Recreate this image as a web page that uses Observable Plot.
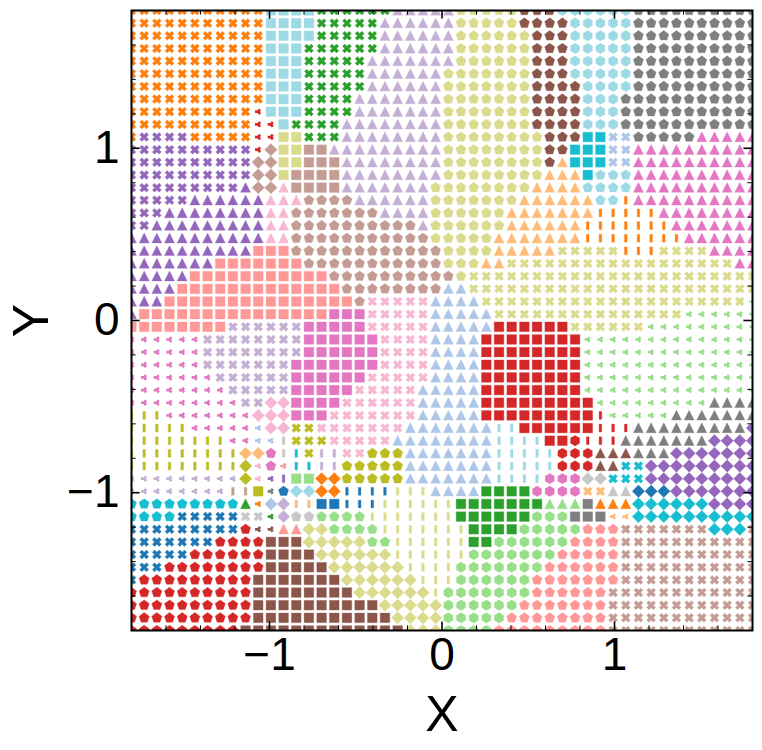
<!DOCTYPE html>
<html><head><meta charset="utf-8">
<script src="https://cdn.jsdelivr.net/npm/d3@7"></script>
<script src="https://cdn.jsdelivr.net/npm/@observablehq/plot@0.6"></script>
<style>html,body{margin:0;padding:0;background:#fff}svg{display:block}</style>
</head><body><div id="chart"></div>
<script>
// Colour keys a..t = the 20 tab20 colours
const colorKeys = "abcdefghijklmnopqrst".split("");
const colorValues = ["#1f77b4","#aec7e8","#ff7f0e","#ffbb78","#2ca02c","#98df8a","#d62728","#ff9896","#9467bd","#c5b0d5","#8c564b","#c49c94","#e377c2","#f7b6d2","#7f7f7f","#c7c7c7","#bcbd22","#dbdb8d","#17becf","#9edae5"];
// Each row (top to bottom) lists runs: colour key, shape key, cell count.
// Shapes: x cross, s square, t triangle, p pentagon, d diamond, b bar, l three-arm, h hexagon
const rows = [
"cx11 ts4 ex6 jt5 rp5 kp3 th6 op10",
"cx11 ts4 ex5 jt6 rp5 kp4 th5 op10",
"cx11 ts4 ex5 jt6 rp6 kp3 th5 op10",
"cx11 ts3 ex6 jt6 rp6 kp3 th5 op10",
"cx11 ts3 ex5 jt7 rp6 kp3 th5 op10",
"cx11 ts3 ex5 jt6 rp7 kp3 th5 op10",
"cx11 ts3 ex5 jt6 rp7 kp4 th4 op10",
"cx11 ts3 ex4 jt7 rp7 kp4 th3 op11",
"cx10 gl1 ts3 ex4 jt7 rp7 kp4 th3 op11",
"cx10 gl2 ts1 ex4 jt8 rp7 kp4 th3 op11",
"cx1 ix4 cx5 gl2 rs2 ex3 jt8 rp8 kp3 ss2 bx2 op5 mt5",
"ix10 gl1 ld1 rs2 ls2 jt9 rp8 kp2 ss3 bx2 mt10",
"ix10 ld2 rs2 ls3 jt8 rp8 kp1 dt1 ss3 bx2 mt10",
"ix10 ld2 rs1 ls4 jt8 rp8 dt3 ss1 tp3 mt10",
"ix9 it1 ld2 nt1 ls4 jt7 rp8 dt4 tp4 mt10",
"ix5 it6 nt3 lp4 jt6 rp7 dt6 tp2 cb1 mt10",
"ix3 it8 nt2 lp7 jt4 rp6 dt7 cb5 mt8",
"ix2 it9 nt2 lp10 jt1 rp6 dt6 cb7 mt7",
"it11 nt2 lp11 rp5 dt7 cb8 mt6",
"it10 hs3 lp12 rp4 dt5 rx5 cb3 rx4 mt4",
"it7 hs7 lp11 rp3 dt2 rx18 mt2",
"it5 hs11 lp10 rp1 rx23",
"it4 hs13 lp8 bt2 rx23",
"it3 hs15 lp1 nx5 bt4 rx21 fl1",
"it1 hs15 ms3 nx5 bt5 rx15 fl6",
"hs8 jx6 ms5 nx5 bt5 gs6 rx6 fl9",
"ml6 jx8 ms6 nx4 bt4 gs8 fl14",
"ml6 jx8 ms6 nx4 bt4 gs8 fl14",
"ml6 jx7 ms7 nx4 bt4 gs8 fl14",
"ml7 jx6 ms6 nx5 bt4 gs8 fl14",
"ml8 jx5 ms5 nx5 bt5 gs8 fl14",
"ml9 jx2 nd2 ms4 nx6 bt5 gs9 fl9 ot4",
"qb3 ml7 nd3 ms3 nx7 bt5 gs9 gb1 fl5 ot7",
"qb5 ml5 bl1 nd2 qx2 nx7 bt7 tb2 gs6 gb3 ot9 id1",
"qb8 ml2 bl2 pb1 qx3 nx5 bt8 tb4 gs2 gh1 gb3 ot7 id4",
"qb9 dd2 mp1 pb1 sb1 qx1 jb2 nx2 qp3 bt7 tb5 gh3 kt3 ot3 id7",
"qb9 qd1 nl1 mp1 hl1 sb2 jb2 qp5 bt7 tb5 gh3 kt2 sx2 id9",
"jl9 qd1 nl1 il1 ib1 fs2 cd2 qp5 bt7 tb4 mh3 pd2 sx3 id9",
"jl8 lb2 qs1 ol1 ap1 td2 cd2 ab4 rb3 bt4 es4 mh4 dx2 pt2 ad3 id7",
"sp9 et1 cl1 bd1 jd1 db2 as2 ab3 rb6 es7 ft3 os1 ct3 sd6 id4",
"sp4 ax5 px2 el1 jd1 pp2 fp4 rb7 es6 fh3 os3 dl2 sd10",
"ax9 gp1 kl2 ht2 rd2 fp4 rb7 es4 fh5 hp3 lx7 sd3 lx1",
"ax7 gp4 ks3 rd5 fp2 rb6 es2 fh6 hp4 lx11",
"ax5 gp6 ks4 rd6 rb6 fh7 hp5 lx11",
"ax3 gp8 ks5 rd6 rb4 fh7 hp6 lx11",
"ax1 gp9 ks7 rd6 rb3 fh6 hp7 lx11",
"gp10 ks8 rd6 rb1 fh7 hp6 lx12",
"gp10 ks10 rd5 fh6 hp7 lx12",
"gp10 ks11 rd4 fh5 hp8 lx12",
"gp9 ks13 rd3 fh4 hp9 lx12"
];
const gridCount = 50, lim = 1.8;
const majorTicks = [-1, 0, 1];
const minorTicks = [-1.6,-1.4,-1.2,-0.8,-0.6,-0.4,-0.2,0.2,0.4,0.6,0.8,1.2,1.4,1.6];
const tickLabels = ["\u22121", "0", "1"];

const cells = [];
rows.forEach((row, j) => {
  let i = 0;
  row.split(" ").forEach(tok => {
    const n = +tok.slice(2);
    for (let k = 0; k < n; k++, i++) {
      cells.push({x: -lim + i * 2 * lim / (gridCount - 1), y: lim - j * 2 * lim / (gridCount - 1), c: tok[0], s: tok[1]});
    }
  });
  if (i !== gridCount) console.error("row", j, i);
});

const poly = pts => ({draw(ctx){pts.forEach((p,k)=> k?ctx.lineTo(p[0],p[1]):ctx.moveTo(p[0],p[1])); ctx.closePath();}});
const ring = (n,R,rot) => d3.range(n).map(k=>{const a=rot+k*2*Math.PI/n; return [R*Math.sin(a),-R*Math.cos(a)];});
const X = 2.25;
const symbols = {
  s: poly([[-4.8,-4.8],[4.8,-4.8],[4.8,4.8],[-4.8,4.8]]),
  t: poly([[0,-5.2],[5,4.7],[-5,4.7]]),
  p: poly(ring(5,5.3,0)),
  h: poly(ring(6,5.2,0)),
  d: poly([[0,-6.2],[6.2,0],[0,6.2],[-6.2,0]]),
  b: poly([[-1.3,-3.9],[1.3,-3.9],[1.3,3.9],[-1.3,3.9]]),
  x: poly([[-1,-2],[0,-1],[1,-2],[2,-1],[1,0],[2,1],[1,2],[0,1],[-1,2],[-2,1],[-1,0],[-2,-1]].map(p=>[p[0]*X,p[1]*X])),
  l: {draw(ctx){ctx.moveTo(-3.2,0);ctx.lineTo(0,0);ctx.moveTo(1.9,-2.4);ctx.lineTo(0,0);ctx.lineTo(1.9,2.4);}}
};
const dotMarks = Object.keys(symbols).map(s => {
  const data = cells.filter(d => d.s === s);
  return s === "l"
    ? Plot.dot(data, {x:"x", y:"y", stroke:"c", fill:"none", strokeWidth:2.7, symbol:symbols[s], r:4, clip:true})
    : Plot.dot(data, {x:"x", y:"y", fill:"c", stroke:"c", strokeWidth:0.9, strokeOpacity:0.4, symbol:symbols[s], r:4, clip:true});
});
const tickLen = {major:0.05, minor:0.027};
const tickMarks = (vals, len, w) => [
  Plot.ruleX(vals,{x:d=>d, y1:-lim, y2:-lim+len, stroke:"#000", strokeWidth:w}),
  Plot.ruleX(vals,{x:d=>d, y1:lim, y2:lim-len, stroke:"#000", strokeWidth:w}),
  Plot.ruleY(vals,{y:d=>d, x1:-lim, x2:-lim+len, stroke:"#000", strokeWidth:w}),
  Plot.ruleY(vals,{y:d=>d, x1:lim, x2:lim-len, stroke:"#000", strokeWidth:w})
];
const font = "Liberation Sans, Arial, sans-serif";
const fmt = d => tickLabels[majorTicks.indexOf(d)];
const chart = Plot.plot({
  width:762, height:750, marginLeft:131, marginRight:10, marginTop:10, marginBottom:120,
  style:{fontFamily:font, background:"#fff", color:"#000"},
  x:{domain:[-lim,lim], label:null},
  y:{domain:[-lim,lim], label:null},
  color:{domain:colorKeys, range:colorValues},
  marks:[
    ...dotMarks,
    ...tickMarks(majorTicks, tickLen.major, 1.6),
    ...tickMarks(minorTicks, tickLen.minor, 1),
    Plot.frame({stroke:"#000", strokeWidth:2}),
    Plot.axisX({ticks:majorTicks, tickFormat:fmt, tickSize:0, tickPadding:7, fontSize:46, label:null}),
    Plot.axisY({ticks:majorTicks, tickFormat:fmt, tickSize:0, tickPadding:12, fontSize:46, label:null}),
    Plot.text(["X"],{frameAnchor:"bottom", dy:100, fontSize:50, fill:"#000"}),
    Plot.text(["Y"],{frameAnchor:"left", textAnchor:"middle", dx:-100, rotate:-90, fontSize:50, fill:"#000"})
  ]
});
document.getElementById("chart").appendChild(chart);
</script></body></html>
